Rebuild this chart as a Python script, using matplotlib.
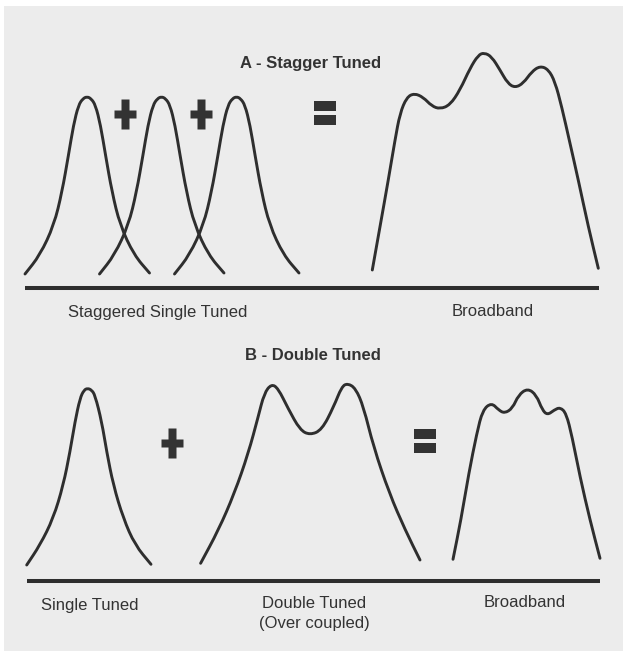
import matplotlib
matplotlib.use("Agg")
import matplotlib.pyplot as plt
from matplotlib.path import Path
from matplotlib.patches import PathPatch, Rectangle

# --- data (image pixel coordinates, y downward) ---

# single tuned bell: offset from centre frequency, response level
bell_dx = [-62, -47, -33, -25, -18.5, -13.5, -8.5, -4, 0, 4, 8.5, 13.5, 18.5, 25, 33, 47, 62.5]
bell_y = [274, 255, 225, 192, 155, 125, 105, 98.5, 96.7, 98.5, 105, 125, 155, 192, 225, 255, 273]
stagger_centres = [87, 161.5, 236.5]

broad_a_x = [372.3, 380, 388.3, 395, 400, 406.7, 414.3, 423.3, 431.7, 440, 450, 460, 470,
             478.3, 484.3, 491.7, 500, 507.7, 515, 523.3, 531.7, 540, 548.3, 555, 561.7,
             570, 578.3, 588.3, 598.3]
broad_a_y = [270, 226.7, 180, 140, 113.3, 97.3, 93.3, 97.3, 106, 109, 105, 90, 68.3,
             55, 52.7, 56.7, 70, 83.3, 87.7, 83.3, 71.7, 66, 69.3, 81.7, 106.7,
             143.3, 180, 226.7, 268.3]

single_x = [26.7, 40, 53.3, 63.3, 70, 75, 80, 84, 87.7, 91.5, 95, 101.7, 106.7, 113.3, 123.3, 135, 151]
single_y = [565, 545, 518.3, 485, 451.7, 421.7, 398.3, 390, 388.3, 390, 395, 421.7, 451.7, 485, 518.3, 545, 564.3]

double_x = [200.6, 218.5, 234.4, 248.3, 258.2, 264.2, 271.4, 278.1, 288, 300, 310, 321.8,
            333.7, 341.7, 347.6, 355.6, 363.5, 373.5, 389.3, 405.2, 420]
double_y = [563.3, 530, 493.3, 453.3, 416.7, 393.3, 384, 388.3, 408.3, 430, 435, 430,
            406.7, 386.7, 383.3, 388.3, 406.7, 446.7, 493.3, 530, 560]

broad_b_x = [453, 460.9, 468.8, 476.8, 482.7, 491.5, 498.6, 504.6, 512.5, 518.5, 527.6,
             536.4, 542.3, 547.5, 554.2, 560.2, 566.2, 572.1, 580, 590, 600]
broad_b_y = [559.3, 520, 473.3, 433.3, 410, 402.7, 410, 413.3, 408.3, 395, 388.3,
             395, 410, 415, 410, 407.3, 413.3, 436.7, 476.7, 520, 558.3]

INK = "#2e2e2e"
TXT = "#333333"
FONT = ["Liberation Sans Narrow", "Liberation Sans", "DejaVu Sans"]


def smooth_curve(ax, xs, ys):
    # quadratic bezier path that uses the read points as control points
    pts = list(zip(xs, ys))
    verts = [pts[0]]
    codes = [Path.MOVETO]
    mid = lambda a, b: ((a[0] + b[0]) / 2, (a[1] + b[1]) / 2)
    verts.append(mid(pts[0], pts[1]))
    codes.append(Path.LINETO)
    for i in range(1, len(pts) - 1):
        verts += [pts[i], mid(pts[i], pts[i + 1])]
        codes += [Path.CURVE3, Path.CURVE3]
    verts.append(pts[-1])
    codes.append(Path.LINETO)
    ax.add_patch(PathPatch(Path(verts, codes), facecolor="none", edgecolor=INK,
                           lw=2.1, capstyle="round", joinstyle="round"))


fig = plt.figure(figsize=(6.23, 6.51), dpi=100)
fig.patch.set_facecolor("white")
fig.patches.append(Rectangle((4 / 623, 0), 1, 645 / 651, transform=fig.transFigure,
                             facecolor="#ececec", edgecolor="none", zorder=-10))

ax = fig.add_axes([0, 0, 1, 1])
ax.set_xlim(0, 623)
ax.set_ylim(651, 0)
ax.axis("off")
ax.patch.set_alpha(0)

# A - stagger tuned
for c in stagger_centres:
    smooth_curve(ax, [c + d for d in bell_dx], bell_y)
smooth_curve(ax, broad_a_x, broad_a_y)

# B - double tuned
smooth_curve(ax, single_x, single_y)
smooth_curve(ax, double_x, double_y)
smooth_curve(ax, broad_b_x, broad_b_y)

# baselines
ax.hlines(287.5, 25, 599, color=INK, lw=2.9)
ax.hlines(580.5, 27, 600, color=INK, lw=2.9)

# bold plus / equals signs
w, h, t = 11, 15.5, 4.3
plus = Path([(-t, h), (t, h), (t, t), (w, t), (w, -t), (t, -t), (t, -h), (-t, -h),
             (-t, -t), (-w, -t), (-w, t), (-t, t), (-t, h)])
for px, py in [(125.2, 113.7), (200.8, 113.7), (172, 442.5)]:
    ax.plot(px, py, marker=plus, ms=22.3, color=TXT, mec="none")
for ex, ey in [(325, 112.5), (425, 440.5)]:
    ax.add_patch(Rectangle((ex - 11, ey - 12), 22, 10, color=TXT, lw=0))
    ax.add_patch(Rectangle((ex - 11, ey + 2), 22, 10, color=TXT, lw=0))

# labels
txt_kw = dict(color=TXT, family=FONT, ha="center", va="baseline", fontsize=12)
ax.text(310.5, 68.3, "A - Stagger Tuned", fontweight="bold", **txt_kw)
ax.text(157.5, 317.5, "Staggered Single Tuned", **txt_kw)
ax.text(492.6, 316.5, "Broadband", **txt_kw)
ax.text(312.8, 360, "B - Double Tuned", fontweight="bold", **txt_kw)
ax.text(90, 610, "Single Tuned", **txt_kw)
ax.text(314.5, 608.3, "Double Tuned", **txt_kw)
ax.text(314.5, 628, "(Over coupled)", **txt_kw)
ax.text(525, 606.7, "Broadband", **txt_kw)

fig.savefig("out.png", dpi=100, facecolor=fig.get_facecolor())
